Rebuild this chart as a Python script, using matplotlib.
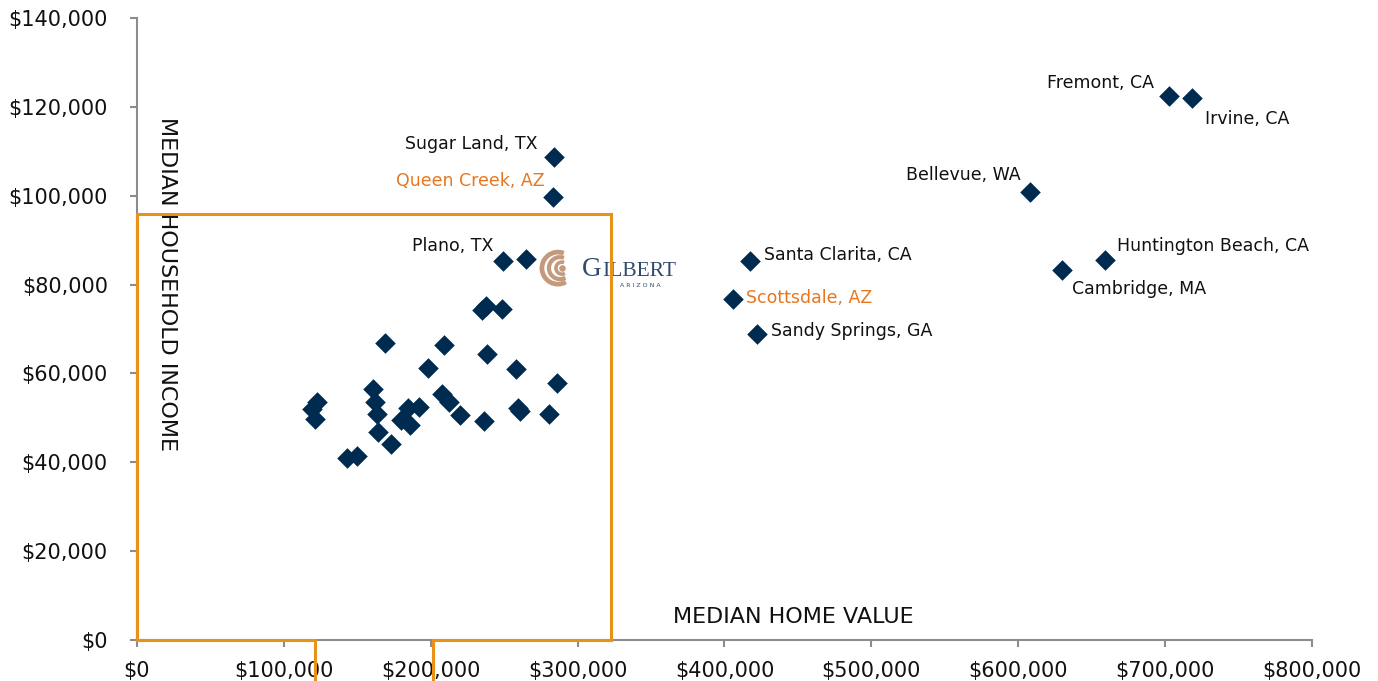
import matplotlib.pyplot as plt
from matplotlib.ticker import FuncFormatter, MultipleLocator
from matplotlib.patches import Arc

# Города без подписи (стоимость жилья, доход)
other_home = [119100, 122500, 121200, 160900, 162000, 163200, 163900, 172700, 142800, 150000,
              184300, 192000, 179700, 185900, 169100, 208800, 198100, 207400, 212400, 219900,
              235000, 237500, 248700, 238300, 258300, 285700, 236000, 259500, 261000, 280500]
other_income = [52100, 53600, 49700, 56400, 53600, 50800, 46900, 44100, 40900, 41400,
                52200, 52400, 49500, 48400, 66800, 66300, 61200, 55400, 53600, 50600,
                74300, 75200, 74400, 64400, 61000, 57900, 49400, 52200, 51500, 50800]

# Подписанные города
names = ['Sugar Land, TX', 'Queen Creek, AZ', 'Plano, TX', 'Santa Clarita, CA', 'Scottsdale, AZ',
         'Sandy Springs, GA', 'Fremont, CA', 'Irvine, CA', 'Bellevue, WA',
         'Huntington Beach, CA', 'Cambridge, MA']
named_home = [283700, 283000, 249400, 417600, 405600, 421900, 702600, 718300, 608200, 659300, 629600]
named_income = [108700, 99800, 85200, 85200, 76700, 68800, 122500, 121900, 100800, 85500, 83200]

# Гилберт (точка с логотипом)
gilbert_home = 264900
gilbert_income = 85700

# сдвиги подписей в пикселях (dx, dy)
offsets = {
    'Sugar Land, TX': (-16, 13), 'Queen Creek, AZ': (-8, 16), 'Plano, TX': (-10, 15),
    'Santa Clarita, CA': (14, 6), 'Scottsdale, AZ': (13, 1), 'Sandy Springs, GA': (14, 3),
    'Fremont, CA': (-15, 13), 'Irvine, CA': (13, -21), 'Bellevue, WA': (-10, 17),
    'Huntington Beach, CA': (12, 14), 'Cambridge, MA': (10, -19),
}

navy = '#002B50'
orange = '#E8921C'
orange_text = '#E8761E'
gray = '#8C8C8C'

fig = plt.figure(figsize=(13.78, 6.81), dpi=100)
ax = fig.add_axes([0.0994, 0.0602, 0.8527, 0.9134])

ax.set_xlim(0, 800000)
ax.set_ylim(0, 140000)

all_x = other_home + named_home + [gilbert_home]
all_y = other_income + named_income + [gilbert_income]
ax.scatter(all_x, all_y, marker='D', s=110, color=navy, linewidths=0, zorder=3)

for name, x, y in zip(names, named_home, named_income):
    dx, dy = offsets[name]
    color = orange_text if name.endswith('AZ') else '#111111'
    ax.annotate(name, (x, y), xytext=(dx, dy), textcoords='offset pixels',
                ha='right' if dx < 0 else 'left', va='center', fontsize=12.5, color=color)

# логотип Gilbert: завитки + надпись
px_x = 800000 / 1175.0   # единиц на пиксель по x
px_y = 140000 / 622.0    # единиц на пиксель по y
cx, cy = 286600, 83700
tan = '#C49A7E'
for r, off, lw in [(16, 0, 3.4), (11, 2, 3.0), (6, 4, 2.6)]:
    ax.add_patch(Arc((cx + off * px_x, cy), 2 * r * px_x, 2 * r * px_y,
                     theta1=40, theta2=330, color=tan, lw=lw, zorder=4))
ax.scatter([cx + 4 * px_x], [cy], s=14, color=tan, zorder=4)
ax.text(303000, 83300, 'G', fontsize=19.5, family='Liberation Serif', color='#2E4A6B',
        va='center', ha='left', zorder=4)
ax.text(316500, 82900, 'ILBERT', fontsize=15.5, family='Liberation Serif', color='#2E4A6B',
        va='center', ha='left', zorder=4)
ax.text(343000, 79900, 'A R I Z O N A', fontsize=4.5, color='#2E4A6B',
        va='center', ha='center', zorder=4)

# оранжевая рамка
top = 95800
right = 322700
gap_l, gap_r = 121200, 201500
kw = dict(color=orange, lw=2.2, clip_on=False, zorder=6, solid_joinstyle='miter')
ax.plot([gap_l, gap_l, 0, 0, right, right, gap_r, gap_r],
        [-9500, 0, 0, top, top, 0, 0, -9500], **kw)

# подписи осей
ax.text(447000, 5200, 'MEDIAN HOME VALUE', fontsize=16, ha='center', va='center', color='#111111')
ax.text(20400, 80100, 'MEDIAN HOUSEHOLD INCOME', fontsize=16, rotation=-90,
        ha='center', va='center', color='#111111')

ax.xaxis.set_major_locator(MultipleLocator(100000))
ax.yaxis.set_major_locator(MultipleLocator(20000))
fmt = FuncFormatter(lambda v, p: '${:,.0f}'.format(v))
ax.xaxis.set_major_formatter(fmt)
ax.yaxis.set_major_formatter(fmt)

for s in ['top', 'right']:
    ax.spines[s].set_visible(False)
for s in ['left', 'bottom']:
    ax.spines[s].set_color(gray)
    ax.spines[s].set_linewidth(1.5)
ax.tick_params(axis='both', direction='out', length=5, width=1.5, color=gray,
               labelsize=15, labelcolor='#111111')
ax.tick_params(axis='y', pad=16)
ax.tick_params(axis='x', pad=10)

fig.savefig('out.png', dpi=100)
